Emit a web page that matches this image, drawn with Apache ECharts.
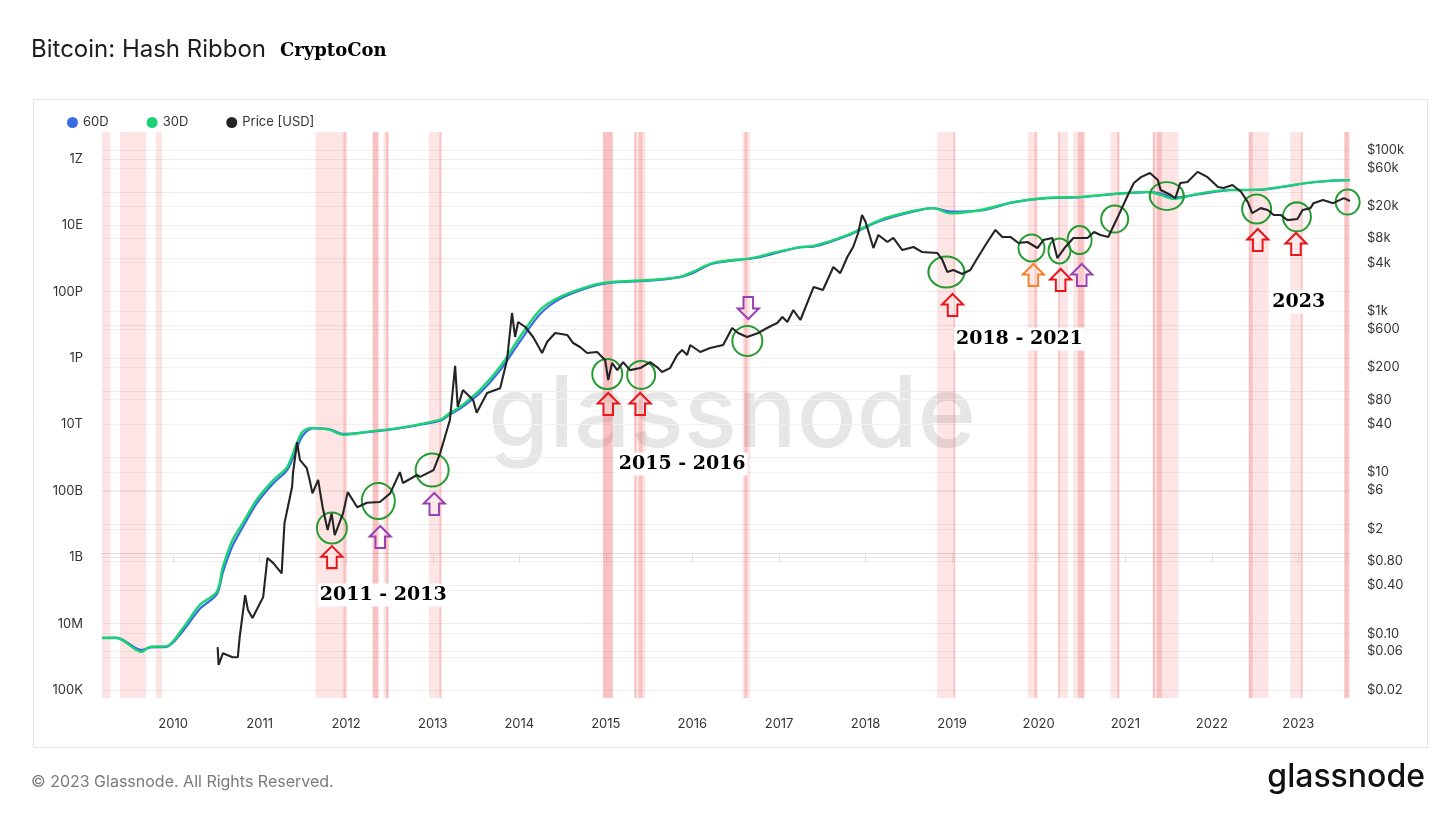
<!DOCTYPE html>
<html lang="en">
<head>
<meta charset="UTF-8">
<title>Bitcoin: Hash Ribbon</title>
<script src="https://cdn.jsdelivr.net/npm/echarts@6/dist/echarts.min.js"></script>
<style>
html, body { margin: 0; padding: 0; background: #fff; }
#container { width: 1456px; height: 819px; }
</style>
</head>
<body>
<div id="container"></div>
<script type="text/javascript">
// hash rate, H/s (30 and 60 day moving averages)
var hashDates = ['2009-03-07','2009-05-07','2009-08-22','2009-09-24','2009-12-05','2010-02-12','2010-04-24','2010-07-04','2010-07-30','2010-09-09',
  '2010-10-23','2010-12-20','2011-02-28','2011-04-27','2011-06-08','2011-07-01','2011-08-12','2011-10-24','2011-12-19','2012-03-29',
  '2012-08-15','2013-02-01','2013-03-14','2013-04-26','2013-07-19','2013-10-11','2014-01-04','2014-03-29','2014-06-20','2014-10-14',
  '2015-01-06','2015-07-20','2015-11-10','2016-01-04','2016-03-29','2016-09-14','2016-12-09','2017-04-01','2017-05-27','2017-10-16',
  '2018-03-03','2018-07-20','2018-10-14','2018-12-24','2019-05-01','2019-09-16','2020-02-08','2020-06-27','2020-11-14','2021-04-04',
  '2021-05-30','2021-07-24','2021-11-02','2022-03-20','2022-07-12','2022-10-19','2023-03-06','2023-07-27','2023-08-07'];
var hash30 = [3.7e6,3.7e6,1.4e6,2.0e6,2.1e6,7.4e6,3.7e7,9.1e7,5.1e8,3.3e9,
  1.1e10,5.4e10,2.1e11,5.2e11,2.8e12,6.0e12,7.9e12,6.9e12,4.9e12,6.0e12,
  7.9e12,1.4e13,2.2e13,3.4e13,1.1e14,5.4e14,4.4e15,2.8e16,6.9e16,1.4e17,
  1.9e17,2.3e17,2.8e17,4.0e17,7.4e17,1.05e18,1.5e18,2.2e18,2.4e18,5.1e18,
  1.45e19,2.7e19,3.3e19,2.3e19,2.9e19,5.0e19,6.8e19,7.2e19,8.9e19,1.02e20,
  8.3e19,6.3e19,8.9e19,1.17e20,1.17e20,1.45e20,2.0e20,2.3e20,2.3e20];
var hash60 = [3.7e6,3.8e6,1.6e6,1.9e6,2.0e6,6.0e6,2.8e7,7.6e7,3.5e8,2.2e9,
  8.3e9,4.2e10,1.7e11,4.2e11,2.0e12,4.5e12,7.6e12,7.2e12,5.2e12,5.9e12,
  7.8e12,1.3e13,2.0e13,3.0e13,8.9e13,4.2e14,3.2e15,2.1e16,6.0e16,1.3e17,
  1.8e17,2.2e17,2.75e17,3.7e17,7.1e17,1.02e18,1.4e18,2.2e18,2.3e18,4.9e18,
  1.35e19,2.6e19,3.3e19,2.6e19,2.8e19,4.9e19,6.6e19,7.1e19,8.7e19,1.0e20,
  9.1e19,6.9e19,8.5e19,1.15e20,1.17e20,1.41e20,1.99e20,2.3e20,2.3e20];

// BTC price, USD
var priceDates = ['2010-07-08','2010-07-12','2010-07-30','2010-09-09','2010-10-01','2010-10-09','2010-11-01','2010-11-13','2010-12-02','2011-01-16',
  '2011-02-03','2011-02-28','2011-04-04','2011-04-16','2011-04-30','2011-05-18','2011-05-22','2011-06-08','2011-06-20','2011-07-19',
  '2011-07-31','2011-08-12','2011-09-05','2011-09-24','2011-10-15','2011-11-01','2011-11-14','2011-12-19','2012-01-08','2012-02-17',
  '2012-03-29','2012-05-23','2012-07-05','2012-08-15','2012-08-28','2012-10-26','2012-11-08','2013-01-04','2013-02-01','2013-03-14',
  '2013-04-05','2013-04-16','2013-05-08','2013-06-20','2013-07-05','2013-08-18','2013-10-12','2013-11-10','2013-12-01','2013-12-14',
  '2013-12-27','2014-01-26','2014-02-28','2014-04-07','2014-04-28','2014-06-01','2014-07-22','2014-08-16','2014-09-14','2014-10-14',
  '2014-11-25','2014-12-29','2015-01-11','2015-01-27','2015-02-18','2015-03-15','2015-04-13','2015-05-26','2015-07-07','2015-08-05',
  '2015-08-26','2015-09-29','2015-10-29','2015-11-19','2015-12-10','2015-12-23','2016-02-03','2016-03-16','2016-05-10','2016-06-17',
  '2016-07-12','2016-08-19','2016-10-05','2016-11-11','2016-12-24','2017-01-15','2017-02-05','2017-03-02','2017-04-01','2017-05-27',
  '2017-07-05','2017-08-18','2017-09-16','2017-10-16','2017-11-10','2017-12-01','2017-12-17','2018-01-01','2018-02-03','2018-02-24',
  '2018-04-03','2018-04-28','2018-06-05','2018-07-22','2018-08-28','2018-10-31','2018-11-21','2018-12-12','2019-01-06','2019-02-13',
  '2019-03-19','2019-04-18','2019-05-30','2019-07-03','2019-08-01','2019-09-04','2019-10-08','2019-11-15','2019-12-27','2020-01-21',
  '2020-02-28','2020-03-20','2020-04-23','2020-05-27','2020-07-25','2020-08-22','2020-09-18','2020-10-21','2020-11-28','2021-01-12',
  '2021-02-06','2021-03-08','2021-04-15','2021-05-18','2021-05-30','2021-07-12','2021-07-31','2021-08-21','2021-09-20','2021-11-02',
  '2021-12-14','2022-01-27','2022-02-20','2022-03-29','2022-05-04','2022-06-02','2022-06-20','2022-07-26','2022-08-25','2022-09-19',
  '2022-10-19','2022-11-16','2022-12-28','2023-01-19','2023-02-21','2023-03-06','2023-04-15','2023-05-28','2023-07-12','2023-08-07'];
var priceValues = [0.068,0.041,0.057,0.051,0.051,0.091,0.30,0.196,0.156,0.284,
  0.87,0.75,0.56,2.35,3.7,6.6,9.8,23.8,14.3,11.3,
  8.1,5.5,8.1,3.7,1.93,3.1,1.67,3.1,5.7,3.7,
  4.2,4.3,5.5,10.1,7.4,9.3,8.8,10.7,17.4,44.7,
  210,65,105,79,55,97,111,248,950,479,
  735,637,479,303,415,537,507,403,360,303,
  312,248,140,228,186,234,186,197,234,203,
  176,197,287,330,287,381,312,349,381,619,
  537,479,537,619,714,847,735,1035,778,2000,
  1830,3530,2970,4700,6300,9400,15600,12800,6080,8820,
  7220,8100,5740,6260,5420,5270,4320,3060,3240,2900,
  3240,4570,7220,10200,8340,8340,7020,7220,6080,7640,
  8100,4570,6260,8100,8100,9600,8820,8340,14300,27600,
  39000,46000,51800,42400,31900,27600,25300,39000,40000,53500,
  46000,34700,33700,36800,30300,22600,16500,19000,18000,15600,
  15600,13500,13900,18000,19000,21900,24000,21900,25300,23300];

// capitulation periods (light) and darker signal stripes
var bandRanges = [['2009-03-07','2009-04-12'],['2009-05-22','2009-09-09'],['2009-10-20','2009-11-15'],['2011-08-25','2011-12-30'],
  ['2012-04-22','2012-05-19'],['2012-06-07','2012-06-28'],['2012-12-16','2013-02-06'],['2014-12-20','2015-01-30'],
  ['2015-05-01','2015-06-18'],['2016-07-31','2016-09-01'],['2018-10-30','2019-01-14'],['2019-11-17','2019-12-28'],
  ['2020-03-24','2020-05-04'],['2020-05-27','2020-07-16'],['2020-10-30','2020-12-08'],['2021-04-27','2021-08-14'],
  ['2022-06-06','2022-08-29'],['2022-11-28','2023-01-19'],['2023-07-13','2023-08-07']];
var stripeRanges = [['2011-12-20','2012-01-04'],['2012-04-22','2012-05-15'],['2012-06-17','2012-06-28'],['2013-01-29','2013-02-06'],
  ['2014-12-20','2015-01-30'],['2015-05-01','2015-05-10'],['2015-05-20','2015-06-05'],['2016-08-08','2016-08-20'],
  ['2019-01-07','2019-01-14'],['2019-12-15','2019-12-24'],['2020-03-24','2020-03-31'],['2020-06-15','2020-07-10'],
  ['2020-11-28','2020-12-06'],['2021-04-27','2021-05-06'],['2021-05-14','2021-06-04'],['2022-06-06','2022-06-22'],
  ['2023-01-12','2023-01-19'],['2023-07-15','2023-08-01']];

// axis ticks
var hashTickExp = [5, 7, 9, 11, 13, 15, 17, 19, 21];
var hashTickNames = ['100K', '10M', '1B', '100B', '10T', '1P', '100P', '10E', '1Z'];
var priceTicks = [0.02, 0.06, 0.10, 0.40, 0.80, 2, 6, 10, 40, 80, 200, 600, 1000, 4000, 8000, 20000, 60000, 100000];
var yearTicks = [2010, 2011, 2012, 2013, 2014, 2015, 2016, 2017, 2018, 2019, 2020, 2021, 2022, 2023];

// annotations (on the price scale)
var circleMarks = [['2011-11-02', 2.04], ['2012-05-16', 4.42], ['2012-12-29', 10.7], ['2015-01-07', 166], ['2015-05-30', 162],
  ['2016-08-20', 427], ['2018-12-08', 3060], ['2019-12-02', 6080], ['2020-03-29', 5590], ['2020-06-22', 7640],
  ['2020-11-17', 13900], ['2021-06-25', 26800], ['2022-07-09', 18500], ['2022-12-26', 14800], ['2023-07-28', 22600]];
var circleSizes = [[30, 31], [33, 36], [33, 33], [30, 30], [28, 28], [30, 30], [36, 31], [26, 27], [22, 25], [24, 28],
  [27, 27], [34, 28], [29, 29], [28, 29], [24, 25]];
var arrowMarks = [['2011-11-02', 0.89, 'red', 'up'], ['2012-05-24', 1.58, 'purple', 'up'], ['2013-01-07', 4.06, 'purple', 'up'],
  ['2015-01-11', 70.6, 'red', 'up'], ['2015-05-26', 70.6, 'red', 'up'], ['2016-08-24', 1096, 'purple', 'down'],
  ['2019-01-03', 1195, 'red', 'up'], ['2019-12-10', 2810, 'orange', 'up'], ['2020-04-03', 2440, 'red', 'up'],
  ['2020-07-01', 2810, 'purple', 'up'], ['2022-07-14', 7640, 'red', 'up'], ['2022-12-22', 6820, 'red', 'up']];
var periodLabels = [['2011 - 2013', '2012-06-06', 0.301], ['2015 - 2016', '2015-11-19', 12.7],
  ['2018 - 2021', '2019-10-12', 452], ['2023', '2023-01-03', 1300]];

var arrowColors = {red: '#e8131b', purple: '#9b40b0', orange: '#f5822a'};
var arrowUp = 'path://M7,24 L7,12 L1,12 L12,1 L23,12 L17,12 L17,24 Z';
var arrowDown = 'path://M7,0 L7,12 L1,12 L12,23 L23,12 L17,12 L17,0 Z';

function ts(s) { return Date.parse(s); }
function lg(v) { return Math.log10(v); }

var xMin = ts('2009-03-07');
var xMax = ts('2023-08-07');
var yearTs = yearTicks.map(function (y) { return Date.UTC(y, 0, 1); });

var d30 = hashDates.map(function (d, i) { return [ts(d), lg(hash30[i])]; });
var d60 = hashDates.map(function (d, i) { return [ts(d), lg(hash60[i])]; });
var dPrice = priceDates.map(function (d, i) { return [ts(d), lg(priceValues[i])]; });

var marks = [];
circleMarks.forEach(function (c, i) {
  marks.push({
    coord: [ts(c[0]), lg(c[1])], symbol: 'circle', symbolSize: circleSizes[i],
    itemStyle: {color: 'rgba(0,0,0,0)', borderColor: '#259b32', borderWidth: 2}
  });
});
arrowMarks.forEach(function (a) {
  marks.push({
    coord: [ts(a[0]), lg(a[1])], symbol: a[3] === 'up' ? arrowUp : arrowDown, symbolSize: [21, 22],
    itemStyle: {color: 'rgba(255,255,255,0.15)', borderColor: arrowColors[a[2]], borderWidth: 2}
  });
});
periodLabels.forEach(function (p) {
  marks.push({
    coord: [ts(p[1]), lg(p[2])], symbol: 'rect', symbolSize: 1,
    itemStyle: {color: 'rgba(0,0,0,0)'},
    label: {
      show: true, position: 'inside', formatter: p[0],
      fontFamily: 'DejaVu Serif', fontWeight: 'bold', fontSize: 19, color: '#000',
      backgroundColor: '#fff', padding: [3, 2, 1, 2]
    }
  });
});

function fmtPrice(v) {
  var p = Math.pow(10, v);
  if (p >= 999) return '$' + Math.round(p / 1000) + 'k';
  if (p >= 1) return '$' + Math.round(p);
  return '$' + p.toFixed(2);
}

var dom = document.getElementById('container');
var myChart = echarts.init(dom);
var option = {
  animation: false,
  backgroundColor: '#fff',
  textStyle: {fontFamily: 'Inter, sans-serif'},
  graphic: [
    {type: 'rect', left: 31, top: 97, z: 0, shape: {width: 1394, height: 648},
      style: {fill: 'none', stroke: '#e4e4e4', lineWidth: 1}},
    {type: 'text', left: 31, top: 38, style: {text: 'Bitcoin: Hash Ribbon', fontSize: 24, fontFamily: 'Inter', fill: '#1d1d1d'}},
    {type: 'text', left: 280, top: 42, style: {text: 'CryptoCon', fontSize: 18, fontFamily: 'DejaVu Serif', fontWeight: 'bold', fill: '#000'}},
    {type: 'text', left: 488, top: 368, z: 0, style: {text: 'glassnode', fontSize: 99, fontFamily: 'Inter', fontWeight: 500, fill: '#e6e6e6'}},
    {type: 'text', left: 31, top: 774, style: {text: '\u00a9 2023 Glassnode. All Rights Reserved.', fontSize: 16, fontFamily: 'Inter', fill: '#7a7a7a'}},
    {type: 'text', right: 31, top: 761, style: {text: 'glassnode', fontSize: 32, fontFamily: 'Inter', fontWeight: 500, fill: '#111'}}
  ],
  legend: {
    left: 62, top: 111, icon: 'circle', itemWidth: 11, itemHeight: 11, itemGap: 38,
    textStyle: {fontSize: 13, color: '#333'},
    data: ['60D', '30D', 'Price [USD]']
  },
  grid: {left: 102, right: 106, top: 132, bottom: 121, containLabel: false},
  xAxis: {
    type: 'value', min: xMin, max: xMax,
    axisLine: {lineStyle: {color: '#dcdcdc'}},
    axisTick: {show: true, length: 10, lineStyle: {color: '#e2e2e2'}, customValues: yearTs},
    axisLabel: {color: '#333', fontSize: 13, margin: 20, customValues: yearTs,
      formatter: function (v) { return String(new Date(v).getUTCFullYear()); }},
    splitLine: {show: false}
  },
  yAxis: [
    {
      type: 'value', position: 'left', min: 4.759, max: 21.813,
      axisLine: {show: false}, axisTick: {show: false, customValues: [5,6,7,8,9,10,11,12,13,14,15,16,17,18,19,20,21]},
      axisLabel: {color: '#333', fontSize: 13, margin: 19, customValues: hashTickExp,
        formatter: function (v) { return hashTickNames[hashTickExp.indexOf(Math.round(v))] || ''; }},
      splitLine: {show: true, lineStyle: {color: '#ededed', width: 1}}
    },
    {
      type: 'value', position: 'right', min: -1.798, max: 5.223,
      axisLine: {show: false}, axisTick: {show: false, customValues: priceTicks.map(lg)},
      axisLabel: {color: '#333', fontSize: 13, margin: 17, customValues: priceTicks.map(lg), formatter: fmtPrice},
      splitLine: {show: true, lineStyle: {color: '#f1f1f1', width: 1}}
    }
  ],
  series: [
    {
      name: 'bands', type: 'line', yAxisIndex: 0, data: [[xMin, 5]], symbol: 'none', silent: true, z: 1,
      lineStyle: {width: 0},
      markArea: {silent: true, itemStyle: {color: 'rgba(240, 80, 80, 0.15)'},
        data: bandRanges.map(function (r) { return [{xAxis: ts(r[0])}, {xAxis: ts(r[1])}]; })}
    },
    {
      name: 'stripes', type: 'line', yAxisIndex: 0, data: [[xMin, 5]], symbol: 'none', silent: true, z: 1,
      lineStyle: {width: 0},
      markArea: {silent: true, itemStyle: {color: 'rgba(235, 70, 70, 0.22)'},
        data: stripeRanges.map(function (r) { return [{xAxis: ts(r[0])}, {xAxis: ts(r[1])}]; })}
    },
    {
      name: '60D', type: 'line', yAxisIndex: 0, data: d60, showSymbol: false, smooth: 0.3, z: 3,
      color: '#3b6be0', lineStyle: {width: 2.2, color: '#3b6be0'}
    },
    {
      name: '30D', type: 'line', yAxisIndex: 0, data: d30, showSymbol: false, smooth: 0.3, z: 4,
      color: '#19d374', lineStyle: {width: 2.4, color: '#19d374'}
    },
    {
      name: 'Price [USD]', type: 'line', yAxisIndex: 1, data: dPrice, showSymbol: false, z: 5,
      color: '#242424', lineStyle: {width: 2.1, color: '#242424'},
      markPoint: {silent: true, label: {show: false}, data: marks}
    }
  ]
};
myChart.setOption(option);
</script>
</body>
</html>
